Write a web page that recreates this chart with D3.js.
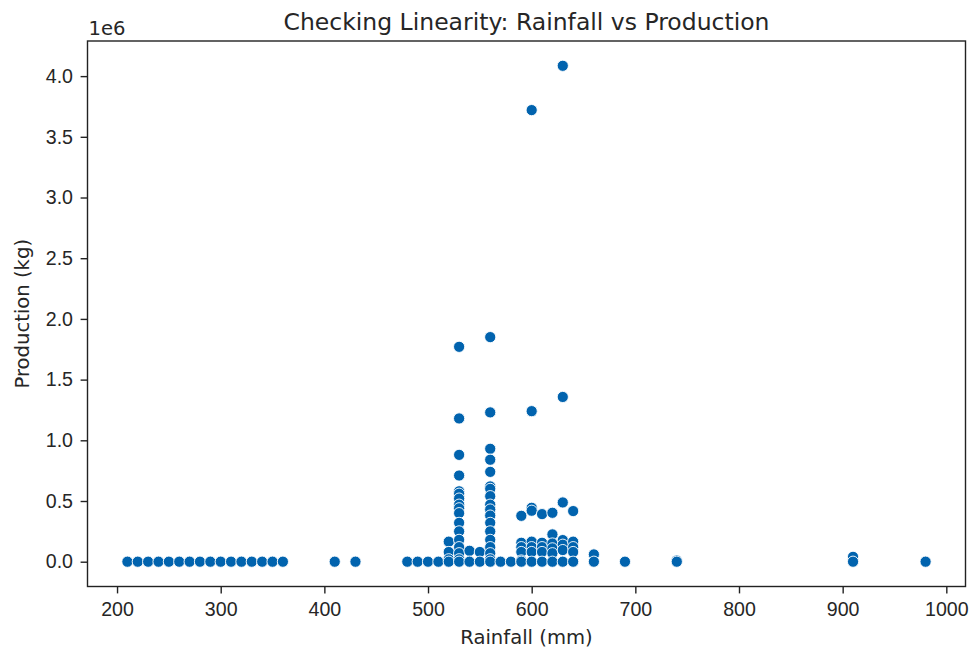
<!DOCTYPE html>
<html>
<head>
<meta charset="utf-8">
<script src="https://cdn.jsdelivr.net/npm/d3@7"></script>
<style>
  html, body { margin: 0; padding: 0; background: #fff; }
  svg { display: block; font-family: "DejaVu Sans", sans-serif; }
</style>
</head>
<body>
<svg id="chart" width="973" height="648"></svg>
<script>
// Rainfall (mm) and production (kg) for each observation, paired by index
const rainfall = [
  210, 220, 230, 240, 250, 260, 270, 280, 290, 300, 310, 320, 330, 340, 350, 360,
  410, 430, 480, 490, 500, 510,
  520, 520, 520, 520,
  530, 530, 530, 530, 530, 530, 530, 530, 530, 530, 530, 530, 530, 530, 530, 530, 530,
  540, 540, 550, 550,
  560, 560, 560, 560, 560, 560, 560, 560, 560, 560, 560, 560, 560, 560, 560, 560, 560, 560,
  570, 580,
  590, 590, 590, 590, 590, 590,
  600, 600, 600, 600, 600, 600, 600, 600,
  610, 610, 610, 610, 610,
  620, 620, 620, 620, 620, 620,
  630, 630, 630, 630, 630, 630, 630,
  640, 640, 640, 640, 640,
  660, 660, 690, 740, 740, 910, 910, 980
];
const production = [
  0, 0, 0, 0, 0, 0, 0, 0, 0, 0, 0, 0, 0, 0, 0, 0,
  0, 0, 0, 0, 0, 0,
  165000, 80000, 20000, 0,
  1770000, 1180000, 880000, 710000, 580000, 560000, 520000, 470000, 440000, 400000, 320000, 250000, 180000, 120000, 70000, 20000, 0,
  90000, 0, 80000, 0,
  1850000, 1230000, 930000, 840000, 740000, 620000, 600000, 540000, 470000, 430000, 380000, 320000, 250000, 180000, 120000, 70000, 20000, 0,
  0, 0,
  378000, 156000, 120000, 80000, 10000, 0,
  3720000, 1240000, 444000, 420000, 165000, 120000, 80000, 0,
  392000, 156000, 120000, 80000, 0,
  403000, 225000, 150000, 110000, 70000, 0,
  4085000, 1357000, 488000, 178000, 140000, 96000, 0,
  417000, 165000, 120000, 80000, 0,
  60000, 0, 0, 10000, 0, 40000, 0, 0
];
const xTicks = [200, 300, 400, 500, 600, 700, 800, 900, 1000];
const yTicks = [0, 0.5e6, 1.0e6, 1.5e6, 2.0e6, 2.5e6, 3.0e6, 3.5e6, 4.0e6];

const points = rainfall.map((r, i) => ({ rain: r, prod: production[i] }));

const svg = d3.select("#chart");
const plot = { left: 87.5, top: 41, right: 965.5, bottom: 586.5 };
const textColor = "#262626";
const lineColor = "#222222";

// 5% padding on each side of the data range
const xExt = d3.extent(rainfall), yExt = d3.extent(production);
const xPad = (xExt[1] - xExt[0]) * 0.05, yPad = (yExt[1] - yExt[0]) * 0.05;
const x = d3.scaleLinear().domain([xExt[0] - xPad, xExt[1] + xPad]).range([plot.left, plot.right]);
const y = d3.scaleLinear().domain([yExt[0] - yPad, yExt[1] + yPad]).range([plot.bottom, plot.top]);

// markers
svg.append("g")
  .selectAll("circle")
  .data(points)
  .join("circle")
  .attr("cx", d => x(d.rain))
  .attr("cy", d => y(d.prod))
  .attr("r", 5.6)
  .attr("fill", "#0163ae")
  .attr("stroke", "#ffffff")
  .attr("stroke-width", 0.9);

// axes
const xAxis = svg.append("g")
  .attr("transform", `translate(0,${plot.bottom})`)
  .call(d3.axisBottom(x).tickValues(xTicks).tickSize(6.9).tickPadding(9).tickFormat(d3.format("d")));
const yAxis = svg.append("g")
  .attr("transform", `translate(${plot.left},0)`)
  .call(d3.axisLeft(y).tickValues(yTicks).tickSize(6.9).tickPadding(7.6).tickFormat(d => (d / 1e6).toFixed(1)));

[xAxis, yAxis].forEach(g => {
  g.select(".domain").remove();
  g.selectAll(".tick line").attr("stroke", lineColor).attr("stroke-width", 1.4);
  g.selectAll(".tick text").attr("fill", textColor).style("font-size", "19.6px");
});

// frame
svg.append("rect")
  .attr("x", plot.left).attr("y", plot.top)
  .attr("width", plot.right - plot.left).attr("height", plot.bottom - plot.top)
  .attr("fill", "none").attr("stroke", lineColor).attr("stroke-width", 1.4);

// offset label for the y axis
svg.append("text")
  .attr("x", plot.left + 1).attr("y", 34.5)
  .attr("fill", textColor).style("font-size", "19.6px")
  .text("1e6");

// title
svg.append("text")
  .attr("x", (plot.left + plot.right) / 2).attr("y", 29.5)
  .attr("text-anchor", "middle")
  .attr("fill", textColor).style("font-size", "23.5px")
  .text("Checking Linearity: Rainfall vs Production");

// axis labels
svg.append("text")
  .attr("x", (plot.left + plot.right) / 2).attr("y", 643.5)
  .attr("text-anchor", "middle")
  .attr("fill", textColor).style("font-size", "19.6px")
  .text("Rainfall (mm)");
svg.append("text")
  .attr("transform", `translate(28.5,${(plot.top + plot.bottom) / 2}) rotate(-90)`)
  .attr("text-anchor", "middle")
  .attr("fill", textColor).style("font-size", "19.6px")
  .text("Production (kg)");
</script>
</body>
</html>
